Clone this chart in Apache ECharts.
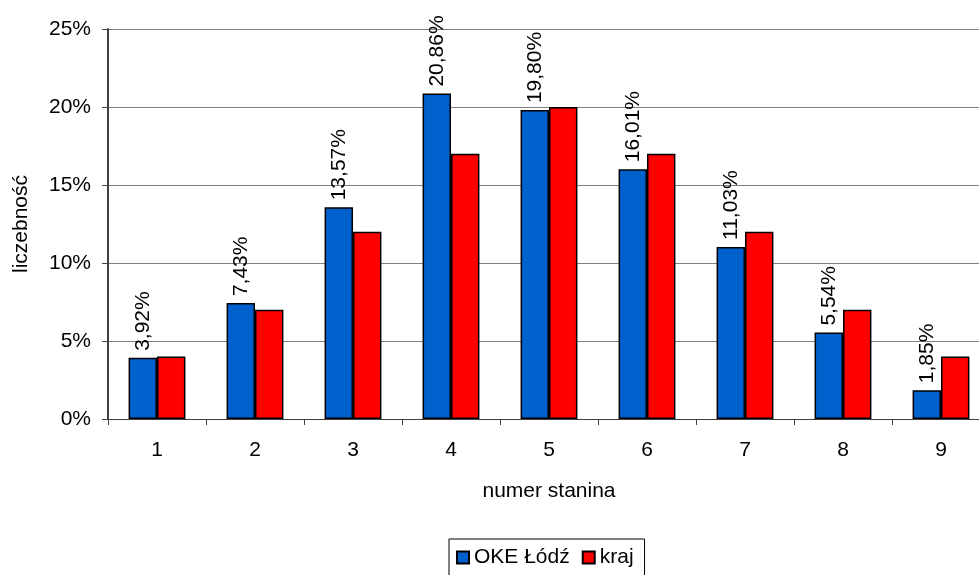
<!DOCTYPE html>
<html>
<head>
<meta charset="utf-8">
<script src="https://cdn.jsdelivr.net/npm/echarts@6/dist/echarts.min.js"></script>
<style>
  html, body { margin: 0; padding: 0; background: #fff; }
  #chart { width: 979px; height: 575px; }
</style>
</head>
<body>
<div id="chart"></div>
<script>
// dane
const categories = ['1', '2', '3', '4', '5', '6', '7', '8', '9']
const okeLodz = [3.92, 7.43, 13.57, 20.86, 19.80, 16.01, 11.03, 5.54, 1.85]
const kraj = [4, 7, 12, 17, 20, 17, 12, 7, 4]
const seriesNames = ['OKE Łódź', 'kraj']

const font = 'Liberation Sans, Arial, sans-serif'
const fs = 21

const chart = echarts.init(document.getElementById('chart'))
const option = {
  backgroundColor: '#fff',
  animation: false,
  textStyle: { fontFamily: font, color: '#000' },
  grid: {
    left: 108,
    right: -11,
    top: 29,
    bottom: 156,
    containLabel: false,
    outerBoundsMode: 'none'
  },
  legend: {
    data: seriesNames,
    top: 539,
    left: 449,
    icon: 'rect',
    itemWidth: 12,
    itemHeight: 12,
    itemGap: 12,
    padding: [8, 11, 10, 7],
    borderColor: '#000',
    borderWidth: 1,
    borderRadius: 0,
    textStyle: { fontFamily: font, fontSize: fs, color: '#000' }
  },
  xAxis: {
    type: 'category',
    data: categories,
    name: 'numer stanina',
    nameLocation: 'middle',
    nameGap: 62,
    nameTextStyle: { fontFamily: font, fontSize: fs, color: '#000', verticalAlign: 'top' },
    axisLine: { lineStyle: { color: '#404040', width: 1 } },
    axisTick: { show: true, length: 6, lineStyle: { color: '#404040' } },
    axisLabel: { fontFamily: font, fontSize: fs, color: '#000', margin: 21 }
  },
  yAxis: {
    type: 'value',
    min: 0,
    max: 25,
    interval: 5,
    name: 'liczebność',
    nameLocation: 'middle',
    nameGap: 76,
    nameRotate: 90,
    nameTextStyle: { fontFamily: font, fontSize: fs, color: '#000' },
    axisLine: { show: true, lineStyle: { color: '#404040', width: 2 } },
    axisTick: { show: true, length: 6, lineStyle: { color: '#404040' } },
    axisLabel: { fontFamily: font, fontSize: fs, color: '#000', margin: 17, formatter: '{value}%' },
    splitLine: { show: true, lineStyle: { color: '#808080', width: 1 } }
  },
  series: [
    {
      name: seriesNames[0],
      type: 'bar',
      data: okeLodz,
      barGap: '0%',
      barCategoryGap: '42%',
      itemStyle: { color: '#0060CC', borderColor: '#000', borderWidth: 1.5 },
      label: {
        show: true,
        position: 'top',
        rotate: 90,
        align: 'left',
        verticalAlign: 'middle',
        distance: 7,
        fontFamily: font,
        fontSize: fs,
        color: '#000',
        formatter: (p) => p.value.toFixed(2).replace('.', ',') + '%'
      }
    },
    {
      name: seriesNames[1],
      type: 'bar',
      data: kraj,
      barGap: '0%',
      barCategoryGap: '42%',
      itemStyle: { color: '#FF0000', borderColor: '#000', borderWidth: 1.5 }
    }
  ]
}
chart.setOption(option)
</script>
</body>
</html>
